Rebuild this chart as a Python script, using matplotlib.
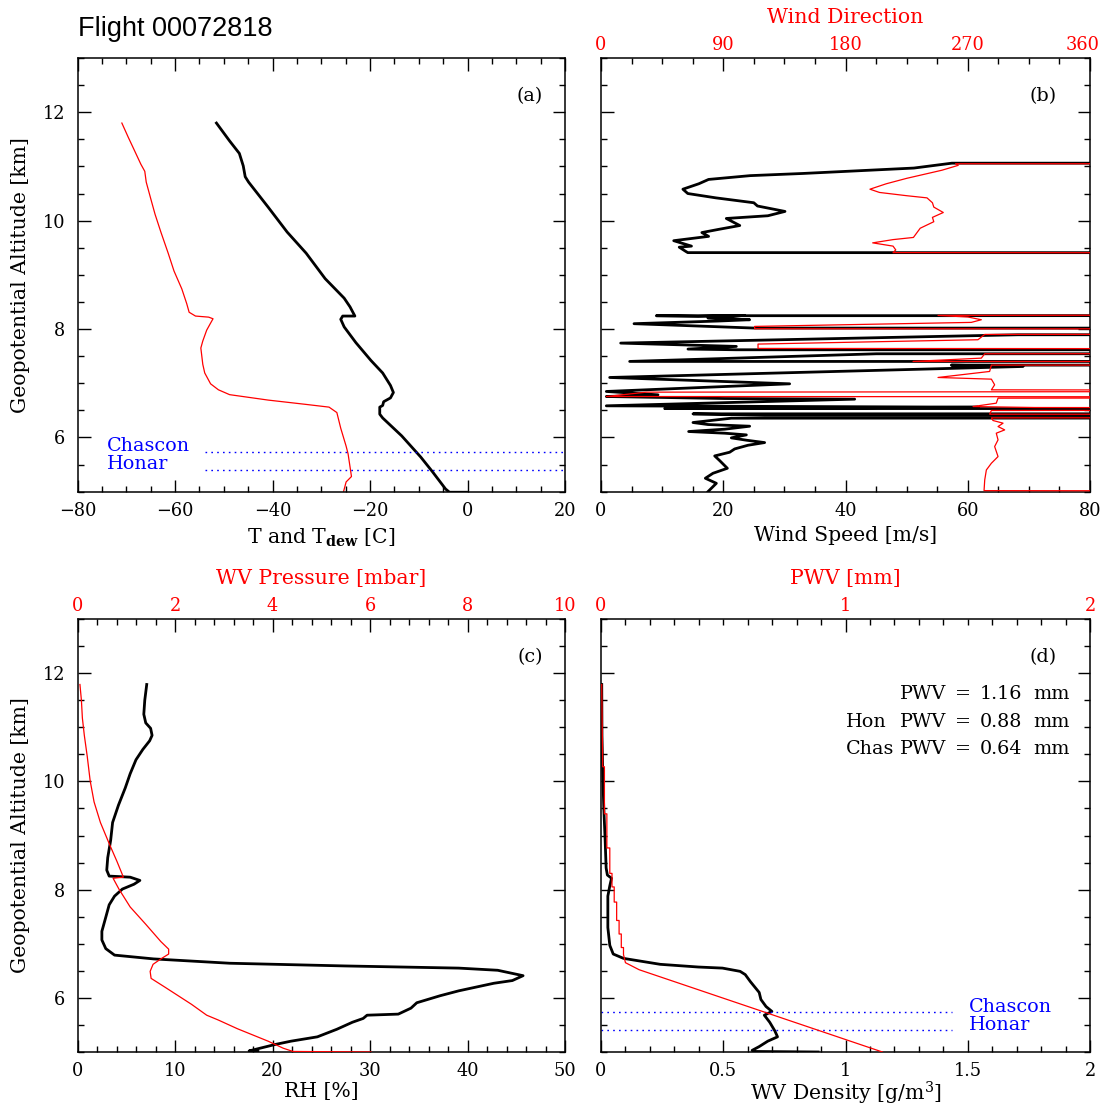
import matplotlib
matplotlib.use("Agg")
import matplotlib.pyplot as plt
from matplotlib.ticker import MultipleLocator, FuncFormatter

plt.rcParams['font.family'] = ['DejaVu Serif']
plt.rcParams['mathtext.fontset'] = 'dejavuserif'

# ---------------- data ----------------
G = 999.0  # off-scale (bad) samples

# panel (a): temperature and dew point vs altitude
t_temp = [-51.5, -48.8, -46.8, -46.0, -45.6, -44.9, -40.9, -37.0, -33.1, -29.2, -25.3, -24.1,
          -23.1, -25.6, -26.0, -25.3, -22.9, -19.8, -17.4, -15.8, -15.2, -15.8, -17.2, -17.4,
          -18.0, -18.0, -17.4, -13.5, -9.6, -7.2, -4.5, -3.7, -0.2]
t_alt = [11.80, 11.47, 11.24, 11.01, 10.81, 10.71, 10.25, 9.79, 9.40, 8.93, 8.57, 8.41,
         8.24, 8.24, 8.18, 8.04, 7.75, 7.42, 7.19, 6.96, 6.83, 6.73, 6.66, 6.59,
         6.56, 6.43, 6.36, 6.03, 5.64, 5.37, 5.05, 4.99, 4.99]
td_temp = [-70.9, -69.6, -68.4, -67.0, -66.2, -65.9, -64.9, -64.1, -62.9, -61.4, -60.2, -58.6,
           -57.6, -57.1, -55.8, -53.1, -52.2, -52.7, -53.5, -54.3, -54.7, -54.3, -53.9, -52.7,
           -51.1, -48.8, -40.9, -33.1, -28.4, -26.8, -26.0, -24.9, -24.5, -23.8, -24.9, -25.4]
td_alt = [11.80, 11.54, 11.31, 11.04, 10.91, 10.71, 10.38, 10.12, 9.79, 9.40, 9.07, 8.74,
          8.47, 8.31, 8.24, 8.22, 8.19, 8.11, 7.98, 7.78, 7.65, 7.35, 7.19, 6.99,
          6.88, 6.79, 6.69, 6.61, 6.56, 6.46, 6.17, 5.84, 5.70, 5.28, 5.18, 5.01]

# site altitudes [km]
site_names = ["Chascon", "Honar"]
site_alt = [5.74, 5.40]

# panel (b): wind speed [m/s] and wind direction [deg]
ws_speed = [G, G, 57.4, 51.2, 33.0, 24.4, 17.6, 16.0, 13.4, 14.2, 18.8, 25.0, 25.6, 30.1, 27.3,
            20.5, 22.7, 19.3, 16.5, 17.6, 11.9, 14.8, 12.8, 13.9, 14.2, G,
            G, 9.05, 15.87, 23.50, 17.50, 24.32, 19.14, 5.40, 25.14, G,
            G, 68.22, 3.22, 22.14, 14.23, 22.14, G,
            G, 45.04, 4.69, G,
            G, 57.31, 69.04, 1.42, 30.86, 0.87, 9.32, 0.87, 20.23, 41.50, 0.87, 61.67, 10.42, G,
            G, 15.05, 26.77, G,
            21.32, 15.05, 17.50, 24.32, 20.23, 14.34, 20.23, 23.78, 21.32, 23.78, 26.77, 24.05,
            21.87, 21.05, 18.60, 19.41, 20.67, 18.32, 17.07, 18.87, 17.50]
ws_alt = [11.80, 11.06, 11.06, 10.97, 10.87, 10.83, 10.76, 10.68, 10.58, 10.50, 10.42, 10.33,
          10.27, 10.17, 10.09, 10.04, 9.91, 9.84, 9.78, 9.71, 9.63, 9.53, 9.51, 9.43, 9.41, 9.40,
          8.271, 8.246, 8.234, 8.252, 8.203, 8.172, 8.148, 8.099, 8.018, 8.006,
          7.901, 7.895, 7.741, 7.680, 7.631, 7.618, 7.615,
          7.557, 7.544, 7.403, 7.397,
          7.335, 7.335, 7.310, 7.107, 6.990, 6.849, 6.787, 6.756, 6.719, 6.707, 6.584, 6.559,
          6.534, 6.522,
          6.448, 6.436, 6.411, 6.387,
          6.356, 6.276, 6.239, 6.208, 6.153, 6.110, 6.079, 6.048, 5.993, 5.950, 5.906, 5.857,
          5.789, 5.728, 5.660, 5.574, 5.432, 5.340, 5.248, 5.155, 5.001]
wd_dir = [G, G, 261, 263, 251, 225, 210, 198, 205, 225, 240, 244, 245, 252, 244, 245, 235, 230,
          215, 200, 215, 217, 215, G,
          G, 248.1, 270.2, 280.0, 272.6, 113.1, 113.1, G,
          G, 282.5, 277.5, 115.6, 115.6, G,
          G, 282.5, 280.0, 229.7, G,
          G, 287.4, 286.1, 248.1, 287.4, 289.8, 287.4, G,
          33.4, 3.9, G,
          292.3, 291.0, 273.9, 319.3, G,
          G, 287.4, 286.1, G,
          G, 287.4, 288.6, 296.0, 292.3, 297.2, 291.0, 292.3, 289.8, 292.3, 287.4, 283.7,
          282.5, 282.0, G]
wd_alt = [11.80, 11.05, 11.05, 11.02, 10.93, 10.78, 10.68, 10.58, 10.52, 10.46, 10.42, 10.33,
          10.25, 10.15, 10.06, 9.98, 9.86, 9.69, 9.65, 9.59, 9.53, 9.46, 9.41, 9.40,
          8.271, 8.252, 8.222, 8.172, 8.123, 8.049, 8.006, 8.000,
          7.914, 7.901, 7.803, 7.723, 7.643, 7.631,
          7.557, 7.544, 7.464, 7.403, 7.397,
          7.341, 7.335, 7.218, 7.107, 7.076, 6.972, 6.879, 6.861,
          6.836, 6.756, 6.744,
          6.725, 6.633, 6.571, 6.553, 6.534,
          6.510, 6.498, 6.430, 6.417,
          6.374, 6.362, 6.313, 6.264, 6.202, 6.140, 6.079, 5.956, 5.833, 5.648, 5.525, 5.401,
          5.217, 5.020, 5.001]

# panel (c): relative humidity [%] and water vapour pressure [mbar]
rh = [7.1, 6.9, 6.8, 7.0, 7.5, 7.65, 7.4, 6.7, 6.0, 5.4, 4.9, 4.2, 3.6, 3.4, 3.1, 3.0, 3.25,
      5.4, 6.4, 5.8, 4.6, 3.8, 3.25, 2.9, 2.5, 2.5, 2.9, 3.8, 7.8, 15.6, 27.4, 39.1, 43.1,
      45.7, 44.6, 42.7, 39.1, 37.2, 34.8, 34.2, 32.9, 29.7, 29.3, 28.2, 26.6, 24.6, 21.9,
      20.3, 17.6, 18.5]
rh_alt = [11.79, 11.50, 11.24, 11.08, 10.98, 10.85, 10.75, 10.59, 10.40, 10.14, 9.88, 9.56,
          9.24, 8.91, 8.59, 8.36, 8.25, 8.23, 8.17, 8.10, 8.01, 7.88, 7.72, 7.49, 7.23, 7.07,
          6.91, 6.79, 6.72, 6.64, 6.59, 6.55, 6.51, 6.41, 6.32, 6.27, 6.13, 6.04, 5.91, 5.81,
          5.70, 5.68, 5.62, 5.55, 5.42, 5.28, 5.20, 5.14, 5.02, 5.01]
wvp = [0.05, 0.08, 0.10, 0.14, 0.20, 0.26, 0.34, 0.47, 0.65, 0.81, 0.91, 0.94, 0.73, 0.85,
       1.08, 1.40, 1.71, 1.87, 1.87, 1.71, 1.55, 1.49, 1.51, 1.79, 2.34, 2.65, 2.89, 3.28,
       3.91, 4.22, 4.42, 6.02]
wvp_alt = [11.79, 11.50, 11.17, 10.85, 10.46, 10.01, 9.62, 9.24, 8.85, 8.52, 8.30, 8.23, 8.21,
           8.01, 7.68, 7.36, 7.04, 6.90, 6.81, 6.72, 6.62, 6.49, 6.36, 6.20, 5.88, 5.68, 5.59,
           5.43, 5.20, 5.07, 5.01, 5.00]

# panel (d): water vapour density [g/m^3] and cumulative PWV [mm]
wvd = [0.003, 0.004, 0.007, 0.011, 0.017, 0.021, 0.026, 0.043, 0.036, 0.028, 0.028, 0.036,
       0.05, 0.092, 0.242, 0.398, 0.497, 0.569, 0.59, 0.611, 0.647, 0.654, 0.675, 0.699,
       0.668, 0.69, 0.711, 0.722, 0.682, 0.647, 0.618, 0.625, 0.888]
wvd_alt = [11.79, 10.85, 10.20, 9.56, 8.91, 8.40, 8.27, 8.21, 8.07, 7.88, 7.30, 6.97, 6.81,
           6.73, 6.62, 6.57, 6.55, 6.49, 6.43, 6.30, 6.10, 5.97, 5.84, 5.75, 5.68, 5.55, 5.39,
           5.28, 5.20, 5.10, 5.03, 5.01, 5.00]
pwv = [0.003, 0.007, 0.014, 0.014, 0.024, 0.024, 0.036, 0.036, 0.045, 0.045, 0.054, 0.054,
       0.064, 0.064, 0.074, 0.074, 0.083, 0.083, 0.092, 0.092, 0.100, 0.156, 1.151]
pwv_alt = [11.79, 10.27, 10.27, 9.40, 9.40, 8.77, 8.77, 8.30, 8.30, 8.05, 8.05, 7.77, 7.77,
           7.43, 7.43, 7.18, 7.18, 6.93, 6.93, 6.80, 6.65, 6.52, 5.00]

pwv_labels = ["", "Hon", "Chas"]
pwv_values = ["1.16", "0.88", "0.64"]

# ---------------- figure ----------------
W, H = 1104, 1109
fig = plt.figure(figsize=(W / 100, H / 100), dpi=100)

def rect(x0, x1, y0, y1):
    return [x0 / W, 1 - y1 / H, (x1 - x0) / W, (y1 - y0) / H]

axa = fig.add_axes(rect(77.5, 565, 58, 491.7))
axb = fig.add_axes(rect(601, 1090, 58, 491.7))
axc = fig.add_axes(rect(77.5, 565, 619, 1052))
axd = fig.add_axes(rect(601, 1090, 619, 1052))

TICK_FS = 12.8
LAB_FS = 14.7
TXT_FS = 13.8
TOP_PAD = 3.0

def fmt_fun(v, p):
    return f"{v:g}".replace('-', '\u2212')

fmt = FuncFormatter(fmt_fun)

def style(ax, xlim, xmaj, xmin, ylabels=True, top=True):
    ax.set_xlim(*xlim)
    ax.set_ylim(5, 13)
    ax.xaxis.set_major_locator(MultipleLocator(xmaj))
    ax.xaxis.set_minor_locator(MultipleLocator(xmin))
    ax.yaxis.set_major_locator(MultipleLocator(2))
    ax.yaxis.set_minor_locator(MultipleLocator(0.5))
    ax.xaxis.set_major_formatter(fmt)
    ax.yaxis.set_major_formatter(fmt)
    ax.tick_params(which='both', direction='in', top=top, right=True, left=True, bottom=True,
                   labelleft=ylabels, labelsize=TICK_FS, width=1.0)
    ax.tick_params(which='major', length=9)
    ax.tick_params(axis='x', which='major', pad=7.5)
    ax.tick_params(axis='y', which='major', pad=9)
    ax.tick_params(which='minor', length=4.5)
    for s in ax.spines.values():
        s.set_linewidth(1.1)
    if ylabels:
        ax.set_ylabel("Geopotential Altitude [km]", fontsize=LAB_FS, labelpad=9)

def twin_top(ax, xlim, xmaj, xmin, label, formatter=fmt):
    t = ax.twiny()
    t.set_xlim(*xlim)
    t.xaxis.set_major_locator(MultipleLocator(xmaj))
    t.xaxis.set_minor_locator(MultipleLocator(xmin))
    t.xaxis.set_major_formatter(formatter)
    t.tick_params(which='both', direction='in', top=True, bottom=False, labelsize=TICK_FS,
                  labelcolor='red', width=1.0)
    t.tick_params(which='major', length=9, pad=TOP_PAD)
    t.tick_params(which='minor', length=4.5)
    t.set_xlabel(label, color='red', fontsize=LAB_FS, labelpad=9)
    for s in t.spines.values():
        s.set_visible(False)
    return t

BLACK_LW = 2.0
RED_LW = 0.9
DOT = (0, (1.2, 3.0))
XLPAD = 4.5
XLPAD_LOW = 1.0

# (a)
style(axa, (-80, 20), 20, 5)
axa.plot(td_temp, td_alt, color='red', lw=RED_LW)
axa.plot(t_temp, t_alt, color='black', lw=BLACK_LW)
axa.set_xlabel("T and T$_{\\mathbf{dew}}$ [C]", fontsize=LAB_FS, labelpad=XLPAD)
for name, alt in zip(site_names, site_alt):
    axa.plot([-53.9, 20], [alt, alt], color='blue', lw=1.0, ls=DOT)
    axa.text(-73.9, alt + 0.11, name, color='blue', fontsize=TXT_FS, va='center', ha='left')
axa.text(0.928, 0.912, "(a)", transform=axa.transAxes, fontsize=TXT_FS, ha='center', va='center')

# (b)
style(axb, (0, 80), 20, 5, ylabels=False, top=False)
axb.plot(ws_speed, ws_alt, color='black', lw=BLACK_LW)
axb.set_xlabel("Wind Speed [m/s]", fontsize=LAB_FS, labelpad=XLPAD)
fmt_b = FuncFormatter(lambda v, p: "" if v >= 359 else fmt_fun(v, p))
tb = twin_top(axb, (0, 360), 90, 22.5, "Wind Direction", formatter=fmt_b)
tb.plot(wd_dir, wd_alt, color='red', lw=RED_LW)
tb.annotate("360", xy=(1, 1), xycoords='axes fraction', xytext=(-5, TOP_PAD),
            textcoords='offset points', ha='center', va='bottom', color='red',
            fontsize=TICK_FS)
axb.text(0.905, 0.912, "(b)", transform=axb.transAxes, fontsize=TXT_FS, ha='center', va='center')

# (c)
style(axc, (0, 50), 10, 2, top=False)
axc.plot(rh, rh_alt, color='black', lw=BLACK_LW)
axc.set_xlabel("RH [%]", fontsize=LAB_FS, labelpad=XLPAD_LOW)
tc = twin_top(axc, (0, 10), 2, 0.4, "WV Pressure [mbar]")
tc.plot(wvp, wvp_alt, color='red', lw=RED_LW)
axc.text(0.928, 0.912, "(c)", transform=axc.transAxes, fontsize=TXT_FS, ha='center', va='center')

# (d)
style(axd, (0, 2), 0.5, 0.1, ylabels=False, top=False)
axd.plot(wvd, wvd_alt, color='black', lw=BLACK_LW)
axd.set_xlabel("WV Density [g/m$^3$]", fontsize=LAB_FS, labelpad=XLPAD_LOW - 1.5)
td = twin_top(axd, (0, 2), 1, 0.1, "PWV [mm]")
td.plot(pwv, pwv_alt, color='red', lw=RED_LW)
for name, alt in zip(site_names, site_alt):
    axd.plot([0, 1.436], [alt, alt], color='blue', lw=1.0, ls=DOT)
    axd.text(1.504, alt + 0.1, name, color='blue', fontsize=TXT_FS, va='center', ha='left')
axd.text(0.905, 0.912, "(d)", transform=axd.transAxes, fontsize=TXT_FS, ha='center', va='center')
for i, (lab, val) in enumerate(zip(pwv_labels, pwv_values)):
    y = 11.61 - 0.51 * i
    axd.text(1.002, y, lab, fontsize=TXT_FS, ha='left', va='center')
    axd.text(1.41, y, "PWV", fontsize=TXT_FS, ha='right', va='center')
    axd.text(1.482, y, "=", fontsize=TXT_FS, ha='center', va='center')
    axd.text(1.637, y, val, fontsize=TXT_FS, ha='center', va='center')
    axd.text(1.919, y, "mm", fontsize=TXT_FS, ha='right', va='center')

fig.text(78 / W, 1 - 29 / H, "Flight 00072818", fontsize=19.5, family='Liberation Sans',
         ha='left', va='center')

fig.savefig("out.png", dpi=100)
